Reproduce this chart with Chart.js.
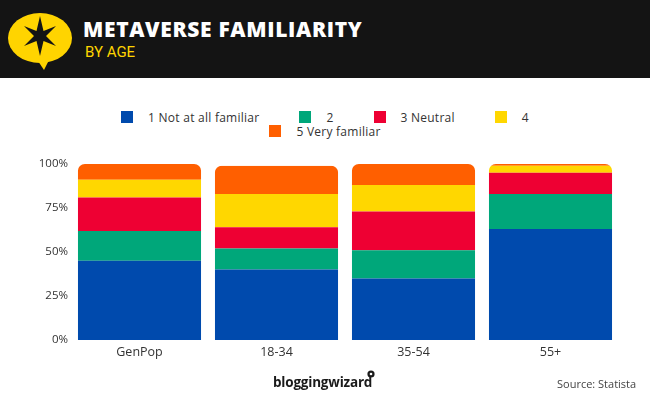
<!DOCTYPE html>
<html>
<head>
<meta charset="utf-8">
<script src="https://cdn.jsdelivr.net/npm/chart.js@4.4.0/dist/chart.umd.min.js"></script>
<style>
  html, body { margin:0; padding:0; background:#fff; }
  #wrap { position:relative; width:650px; height:400px; overflow:hidden; background:#fff; font-family:"Open Sans", sans-serif; }
  #header { position:absolute; left:0; top:0; width:650px; height:78px; background:#141414; }
  #title { position:absolute; left:83px; top:15px; color:#fff; font-family:"Open Sans", sans-serif; font-weight:800; font-size:21px; letter-spacing:0.65px; white-space:nowrap; }
  #subtitle { position:absolute; left:85px; top:43px; color:#FFD400; font-family:"Liberation Sans Narrow","Roboto",sans-serif; font-size:15px; white-space:nowrap; }
  #icon { position:absolute; left:0; top:0; }
  .lrow { position:absolute; left:0; width:650px; display:flex; justify-content:center; align-items:center; height:14px; }
  .litem { display:flex; align-items:center; font-size:12px; letter-spacing:0.25px; color:#333; white-space:nowrap; }
  .lbox { width:12px; height:12px; margin-right:15px; }
  #chart { position:absolute; left:0; top:0; }
  #logo { position:absolute; left:273px; top:373px; font-family:"Open Sans", sans-serif; font-weight:700; font-size:13.5px; color:#1a1a1a; white-space:nowrap; letter-spacing:-0.2px; }
  #source { position:absolute; left:557px; top:376px; font-size:11px; color:#444; white-space:nowrap; }
</style>
</head>
<body>
<div id="wrap">
  <div id="header">
    <svg id="icon" width="80" height="78" viewBox="0 0 80 78">
      <ellipse cx="40" cy="38" rx="32" ry="25" fill="#FFD400"/>
      <path d="M36 58 L44 70 L50 58 Z" fill="#FFD400"/>
      <polygon fill="#141414" points="40,16 43.5,31 56,26 46,36 56,46 43.5,41 40,56 36.5,41 24,46 34,36 24,26 36.5,31"/>
    </svg>
    <div id="title">METAVERSE FAMILIARITY</div>
    <div id="subtitle">BY AGE</div>
  </div>
  <div id="legend"></div>
  <canvas id="chart" width="650" height="400"></canvas>
  <div id="logo">bloggingwizard<svg width="8" height="9" viewBox="0 0 8 9" style="position:absolute; left:94px; top:-3px;"><circle cx="4" cy="4" r="3.6" fill="#1a1a1a"/><circle cx="4" cy="4" r="1.3" fill="#fff"/></svg></div>
  <div id="source">Source: Statista</div>
</div>
<script>
const categories = ["GenPop", "18-34", "35-54", "55+"];
const seriesNames = ["1 Not at all familiar", "2", "3 Neutral", "4", "5 Very familiar"];
const notAtAll = [45, 40, 35, 63];
const two = [17, 12, 16, 20];
const neutral = [19, 12, 22, 12];
const four = [10, 19, 15, 4];
const veryFamiliar = [9, 16, 12, 1];
const yTicks = [0, 25, 50, 75, 100];
const colors = ["#004AAD", "#00A77A", "#EE0033", "#FFD700", "#FF5F00"];
const seriesValues = [notAtAll, two, neutral, four, veryFamiliar];

// HTML legend
const legend = document.getElementById('legend');
const rows = [[0,1,2,3],[4]];
const rowTops = [110, 124];
rows.forEach((r, ri) => {
  const row = document.createElement('div');
  row.className = 'lrow';
  row.style.top = rowTops[ri] + 'px';
  r.forEach((i, k) => {
    const it = document.createElement('div');
    it.className = 'litem';
    if (k > 0) it.style.marginLeft = '40px';
    const b = document.createElement('div');
    b.className = 'lbox';
    b.style.background = colors[i];
    const t = document.createElement('span');
    t.textContent = seriesNames[i];
    it.appendChild(b); it.appendChild(t);
    row.appendChild(it);
  });
  legend.appendChild(row);
});

const roundClip = {
  id: 'roundClip',
  beforeDatasetsDraw(chart) {
    const ctx = chart.ctx;
    const first = chart.getDatasetMeta(0).data;
    const last = chart.getDatasetMeta(chart.data.datasets.length - 1).data;
    ctx.save();
    ctx.beginPath();
    first.forEach((el, i) => {
      const left = el.x - el.width / 2;
      const top = last[i].y;
      const bottom = el.base;
      ctx.roundRect(left, top, el.width, bottom - top, [7, 7, 0, 0]);
    });
    ctx.clip();
  },
  afterDatasetsDraw(chart) {
    chart.ctx.restore();
  }
};

new Chart(document.getElementById('chart'), {
  type: 'bar',
  data: {
    labels: categories,
    datasets: seriesNames.map((n, i) => ({
      label: n,
      data: seriesValues[i],
      backgroundColor: colors[i],
      borderWidth: 0,
      barPercentage: 0.9,
      categoryPercentage: 1.0
    }))
  },
  options: {
    responsive: false,
    animation: false,
    devicePixelRatio: 1,
    layout: { padding: { top: 164, right: 31, bottom: 30, left: 0 } },
    plugins: { legend: { display: false }, tooltip: { enabled: false } },
    scales: {
      x: {
        stacked: true,
        grid: { display: false, drawTicks: false },
        border: { display: false },
        ticks: { color: '#333', font: { family: 'Open Sans', size: 12.5 }, padding: 5 },
        afterFit: s => { s.height = 30; }
      },
      y: {
        stacked: true,
        min: 0, max: 100,
        afterBuildTicks: s => { s.ticks = yTicks.map(v => ({ value: v })); },
        grid: { display: false, drawTicks: false },
        border: { display: false },
        ticks: { color: '#333', font: { family: 'Open Sans', size: 11.5 }, padding: 3, callback: v => v + '%' },
        afterFit: s => { s.width = 71; }
      }
    }
  },
  plugins: [roundClip]
});
</script>
</body>
</html>
